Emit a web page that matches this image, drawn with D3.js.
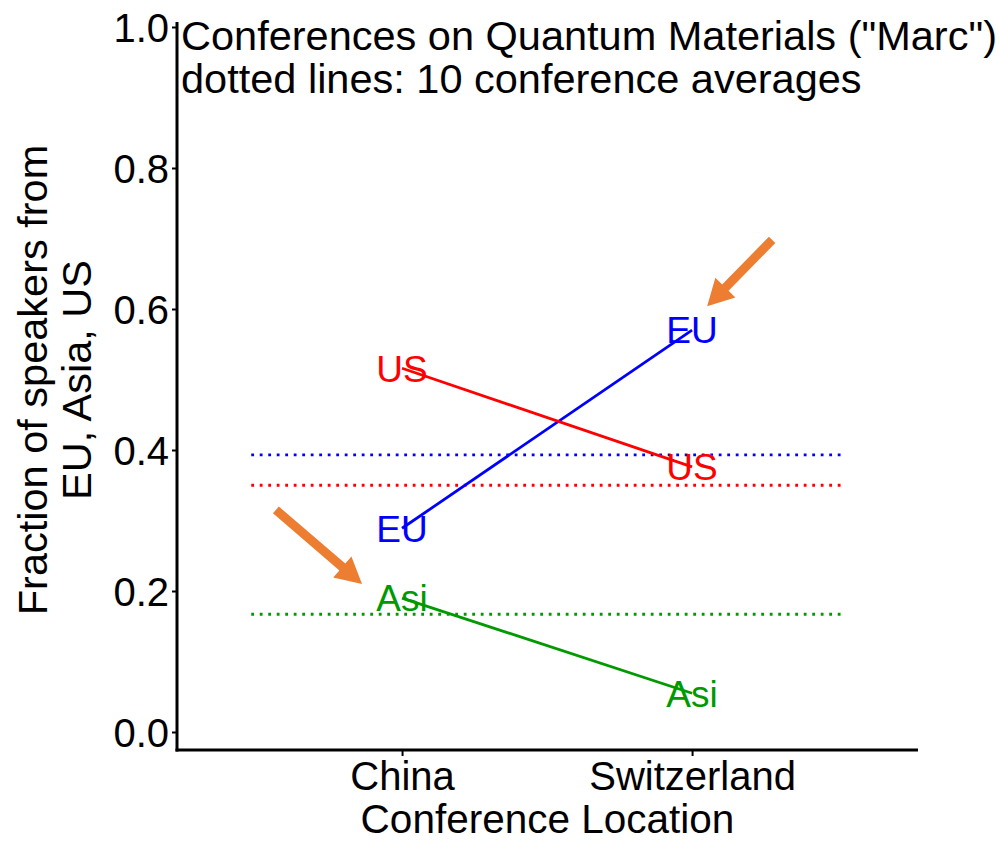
<!DOCTYPE html>
<html>
<head>
<meta charset="utf-8">
<script src="https://cdn.jsdelivr.net/npm/d3@7"></script>
<style>
  html, body { margin: 0; padding: 0; background: #fff; }
  svg { display: block; }
  text { font-family: "Liberation Sans", Arial, sans-serif; }
</style>
</head>
<body>
<div id="chart"></div>
<script>
(function () {
  'use strict';

  /* ---------- Data ---------- */
  const locations = ['China', 'Switzerland'];
  const regionLabels = ['EU', 'Asi', 'US'];
  const regionColors = ['#0000ff', '#009a00', '#ff0000'];
  const euShare   = [0.289, 0.570];
  const asiaShare = [0.190, 0.055];
  const usShare   = [0.516, 0.376];
  const averages  = [0.393, 0.167, 0.350];   // 10 conference averages (EU, Asia, US)
  const yTicks    = [0.0, 0.2, 0.4, 0.6, 0.8, 1.0];

  // orange annotation arrows, in data units: [x tail, y tail, x tip, y tip]
  const arrows = [
    [2.276, 0.698, 2.052, 0.604],
    [0.565, 0.315, 0.862, 0.210]
  ];

  const series = [euShare, asiaShare, usShare];

  /* ---------- Size & scales ---------- */
  const W = 999, H = 842;

  const x = d3.scaleLinear().domain([0.224, 2.779]).range([177, 918]);
  const y = d3.scaleLinear().domain([0, 1]).range([732, 27]);
  const yBottom = y(-0.0255), yTop = y(1.007);

  const svg = d3.select('#chart').append('svg')
    .attr('width', W).attr('height', H);

  /* ---------- Average dotted lines ---------- */
  svg.append('g').selectAll('line')
    .data(averages)
    .join('line')
    .attr('x1', x(0.48)).attr('x2', x(2.52))
    .attr('y1', d => y(d)).attr('y2', d => y(d))
    .attr('stroke', (d, i) => regionColors[i])
    .attr('stroke-width', 2.8)
    .attr('stroke-dasharray', '2.8 5.7');

  /* ---------- Region lines ---------- */
  const line = d3.line().x((d, i) => x(i + 1)).y(d => y(d));

  svg.append('g').selectAll('path')
    .data(series)
    .join('path')
    .attr('d', d => line(d))
    .attr('fill', 'none')
    .attr('stroke', (d, i) => regionColors[i])
    .attr('stroke-width', 2.8);

  /* ---------- Region labels at each point ---------- */
  const labelData = [];
  series.forEach((vals, s) => vals.forEach((v, i) => labelData.push({ s, i, v })));

  svg.append('g').selectAll('text')
    .data(labelData)
    .join('text')
    .attr('x', d => x(d.i + 1))
    .attr('y', d => y(d.v))
    .attr('dy', '0.36em')
    .attr('text-anchor', 'middle')
    .attr('font-size', '37px')
    .attr('fill', d => regionColors[d.s])
    .text(d => regionLabels[d.s]);

  /* ---------- Arrows ---------- */
  function arrowPath(a) {
    const x0 = x(a[0]), y0 = y(a[1]), x1 = x(a[2]), y1 = y(a[3]);
    const dx = x1 - x0, dy = y1 - y0, L = Math.hypot(dx, dy);
    const ux = dx / L, uy = dy / L, nx = -uy, ny = ux;
    const shaft = 4.5, head = 14, headLen = 26;
    const bx = x1 - ux * headLen, by = y1 - uy * headLen;
    const pts = [
      [x0 + nx * shaft, y0 + ny * shaft],
      [bx + nx * shaft, by + ny * shaft],
      [bx + nx * head,  by + ny * head],
      [x1, y1],
      [bx - nx * head,  by - ny * head],
      [bx - nx * shaft, by - ny * shaft],
      [x0 - nx * shaft, y0 - ny * shaft]
    ];
    return 'M' + pts.map(p => p.join(',')).join('L') + 'Z';
  }

  svg.append('g').selectAll('path')
    .data(arrows)
    .join('path')
    .attr('d', arrowPath)
    .attr('fill', '#ed7d31');

  /* ---------- Axes ---------- */
  const yAxis = svg.append('g')
    .attr('transform', `translate(${x.range()[0]},0)`)
    .call(d3.axisLeft(y).tickValues(yTicks).tickFormat(d3.format('.1f')).tickSize(5).tickSizeOuter(0));
  yAxis.select('.domain').remove();
  yAxis.selectAll('.tick line').attr('stroke', '#000').attr('stroke-width', 2);
  yAxis.selectAll('.tick text')
    .attr('font-size', '40px').attr('fill', '#000')
    .attr('font-family', '"Liberation Sans", Arial, sans-serif')
    .attr('x', -8).attr('dy', '0.36em');

  const xAxis = svg.append('g')
    .attr('transform', `translate(0,${yBottom})`)
    .call(d3.axisBottom(x).tickValues([1, 2]).tickFormat(d => locations[d - 1]).tickSize(6).tickSizeOuter(0));
  xAxis.select('.domain').remove();
  xAxis.selectAll('.tick line').attr('stroke', '#000').attr('stroke-width', 2);
  xAxis.selectAll('.tick text')
    .attr('font-size', '40px').attr('fill', '#000')
    .attr('font-family', '"Liberation Sans", Arial, sans-serif')
    .attr('y', 0).attr('dy', 40);

  // axis lines
  svg.append('line')
    .attr('x1', x.range()[0]).attr('x2', x.range()[0])
    .attr('y1', yTop).attr('y2', yBottom + 1.5)
    .attr('stroke', '#000').attr('stroke-width', 3);
  svg.append('line')
    .attr('x1', x.range()[0] - 1.5).attr('x2', x.range()[1])
    .attr('y1', yBottom).attr('y2', yBottom)
    .attr('stroke', '#000').attr('stroke-width', 3);

  /* ---------- Titles ---------- */
  svg.append('text')
    .attr('x', (x.range()[0] + x.range()[1]) / 2)
    .attr('y', 833)
    .attr('text-anchor', 'middle')
    .attr('font-size', '40.5px')
    .text('Conference Location');

  const yt = svg.append('text')
    .attr('transform', 'translate(47,380) rotate(-90)')
    .attr('text-anchor', 'middle')
    .attr('font-size', '41.5px');
  yt.append('tspan').attr('x', 0).attr('y', 0).text('Fraction of speakers from');
  yt.append('tspan').attr('x', 0).attr('y', 44).text('EU, Asia, US');

  const title = svg.append('text')
    .attr('font-size', '41.5px');
  title.append('tspan').attr('x', 181).attr('y', 50).text('Conferences on Quantum Materials ("Marc")');
  title.append('tspan').attr('x', 181).attr('y', 93).text('dotted lines: 10 conference averages');
})();
</script>
</body>
</html>
